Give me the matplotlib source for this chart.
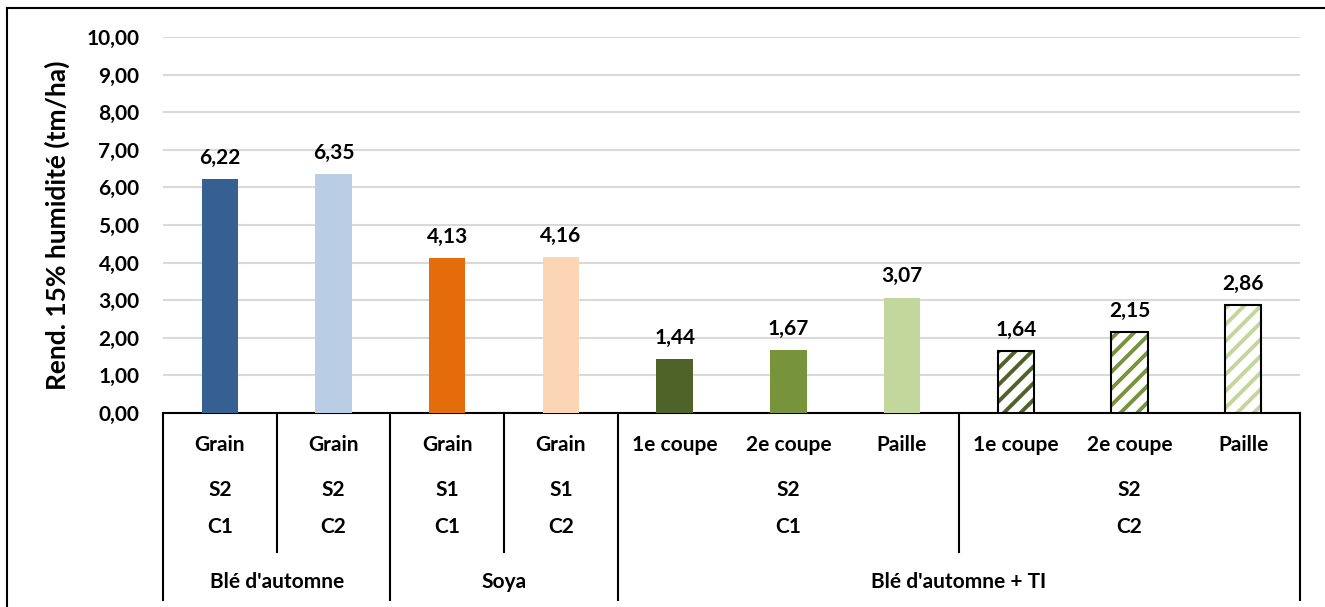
import numpy as np
import matplotlib.pyplot as plt
from matplotlib.lines import Line2D

plt.rcParams['font.family'] = ['Lato', 'DejaVu Sans']
plt.rcParams['font.weight'] = 'bold'
plt.rcParams['hatch.linewidth'] = 2.8

# data
values = [6.22, 6.35, 4.13, 4.16, 1.44, 1.67, 3.07, 1.64, 2.15, 2.86]
part_labels = ['Grain', 'Grain', 'Grain', 'Grain', '1e coupe', '2e coupe', 'Paille',
               '1e coupe', '2e coupe', 'Paille']
seq_groups = [('S2', 0, 0), ('S2', 1, 1), ('S1', 2, 2), ('S1', 3, 3), ('S2', 4, 6), ('S2', 7, 9)]
cycle_groups = [('C1', 0, 0), ('C2', 1, 1), ('C1', 2, 2), ('C2', 3, 3), ('C1', 4, 6), ('C2', 7, 9)]
crop_groups = [("Blé d'automne", 0, 1), ('Soya', 2, 3), ("Blé d'automne + TI", 4, 9)]
colors = ['#376092', '#b9cde5', '#e46c0a', '#fcd5b5', '#4f6228', '#77933c', '#c3d69b',
          '#4f6228', '#77933c', '#c3d69b']
hatched = [False] * 7 + [True] * 3

FS = 15
W, H = 1325, 607
fig = plt.figure(figsize=(W / 100, H / 100), dpi=100)
ax = fig.add_axes([163 / W, 1 - 413 / H, (1300 - 163) / W, (413 - 37) / H])

x = np.arange(len(values))
bw = 0.32
for i, v in enumerate(values):
    if hatched[i]:
        ax.bar(x[i], v, bw, color='white', edgecolor=colors[i], hatch='//', lw=0, zorder=3)
        ax.bar(x[i], v, bw, fill=False, edgecolor='black', lw=1.5, zorder=4)
    else:
        ax.bar(x[i], v, bw, color=colors[i], zorder=3)
    ax.annotate(f'{v:.2f}'.replace('.', ','), (x[i], v), xytext=(0, 8),
                textcoords='offset points', ha='center', va='bottom',
                fontsize=FS, fontweight='bold')

ax.set_xlim(-0.5, len(values) - 0.5)
ax.set_ylim(0, 10)
ax.set_yticks(np.arange(0, 11, 1))
ax.set_yticklabels([f'{t:.2f}'.replace('.', ',') for t in np.arange(0, 11, 1)],
                   fontsize=FS, fontweight='bold')
ax.yaxis.grid(True, color='#d9d9d9', lw=1.5, zorder=0)
ax.set_axisbelow(True)
ax.tick_params(axis='y', length=0, pad=17)
ax.set_xticks([])
for s in ['top', 'right', 'left']:
    ax.spines[s].set_visible(False)
ax.spines['bottom'].set_color('black')
ax.spines['bottom'].set_linewidth(1.5)
ax.set_ylabel('Rend. 15% humidité (tm/ha)', fontsize=19, fontweight='bold', labelpad=12)

# category table under the axis
tr = ax.get_xaxis_transform()
px = 1 / 376
row_y = [-(445 - 413) * px, -(490 - 413) * px, -(527 - 413) * px, -(582 - 413) * px]
y_mid = -(552 - 413) * px
y_bot = -(600 - 413) * px

for i, lab in enumerate(part_labels):
    ax.text(x[i], row_y[0], lab, transform=tr, ha='center', va='center', fontsize=FS,
            fontweight='bold')
for r, groups in [(1, seq_groups), (2, cycle_groups)]:
    for lab, a, b in groups:
        ax.text((a + b) / 2, row_y[r], lab, transform=tr, ha='center', va='center',
                fontsize=FS, fontweight='bold')
for lab, a, b in crop_groups:
    ax.text((a + b) / 2, row_y[3], lab, transform=tr, ha='center', va='center',
            fontsize=FS, fontweight='bold')

crop_edges = {-0.5} | {b + 0.5 for _, a, b in crop_groups}
sub_edges = {b + 0.5 for _, a, b in seq_groups} - crop_edges
for e in crop_edges:
    ax.add_line(Line2D([e, e], [0, y_bot], transform=tr, color='black', lw=1.5, clip_on=False))
for e in sub_edges:
    ax.add_line(Line2D([e, e], [0, y_mid], transform=tr, color='black', lw=1.5, clip_on=False))

# outer frame (only left and top edges visible)
fig.add_artist(Line2D([7 / W, 7 / W], [0, 1 - 8 / H], color='black', lw=1.5))
fig.add_artist(Line2D([7 / W, 1], [1 - 8 / H, 1 - 8 / H], color='black', lw=1.5))

fig.savefig('out.png', dpi=100, facecolor='white')
